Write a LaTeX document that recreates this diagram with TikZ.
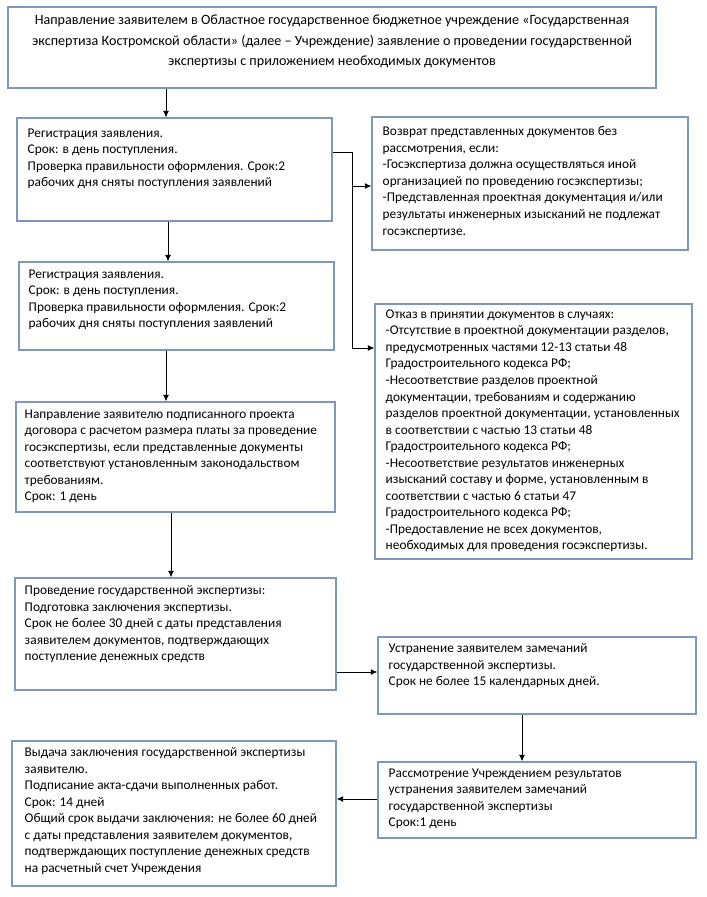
\documentclass[tikz,border=0pt]{standalone}
\usepackage{fontspec}
\setmainfont{Carlito}
\usetikzlibrary{arrows.meta,fit,calc}
\definecolor{boxc}{RGB}{125,152,186}
\begin{document}
\begin{tikzpicture}[x=0.75pt,y=-0.75pt,
  box/.style={draw=boxc,line width=0.8pt,inner sep=0pt},
  txt/.style={inner sep=0pt,align=left,font=\fontsize{10}{12.4}\selectfont,anchor=north west},
  toptxt/.style={inner sep=0pt,align=center,font=\fontsize{10.6}{15.5}\selectfont,anchor=north},
  arr/.style={-{Latex[length=5pt,width=4.5pt]},line width=0.75pt},
  ln/.style={line width=0.75pt}]
\useasboundingbox (0,0) rectangle (707,897);

% boxes
\node[box,fit={(8,7) (656,88)}] (top) {};
\node[box,fit={(17,118) (332,221)}] (A) {};
\node[box,fit={(19,262) (334,350)}] (B) {};
\node[box,fit={(372,117) (688,250)}] (R1) {};
\node[box,fit={(375,304) (692,559)}] (R2) {};
\node[box,fit={(16,402) (335,512)}] (C) {};
\node[box,fit={(15,578) (336,690)}] (D) {};
\node[box,fit={(378,637) (696,714)}] (E) {};
\node[box,fit={(378,762) (696,838)}] (F) {};
\node[box,fit={(12,741) (336,886)}] (G) {};

% texts
\node[toptxt] (topt) at ($(top.north)+(0,8)$) {Направление заявителем в Областное государственное бюджетное учреждение «Государственная\\
экспертиза Костромской области» (далее – Учреждение) заявление о проведении государственной\\
экспертизы с приложением необходимых документов};

\node[txt] (At) at ($(A.north west)+(11,11)$) {Регистрация заявления.\\
Срок: в день поступления.\\
Проверка правильности оформления. Срок:2\\
рабочих дня сняты поступления заявлений};

\node[txt] (Bt) at ($(B.north west)+(10,8)$) {Регистрация заявления.\\
Срок: в день поступления.\\
Проверка правильности оформления. Срок:2\\
рабочих дня сняты поступления заявлений};

\node[txt] (R1t) at ($(R1.north west)+(11,10)$) {Возврат представленных документов без\\
рассмотрения, если:\\
-Госэкспертиза должна осуществляться иной\\
организацией по проведению госэкспертизы;\\
-Представленная проектная документация и/или\\
результаты инженерных изысканий не подлежат\\
госэкспертизе.};

\node[txt] (R2t) at ($(R2.north west)+(11,6)$) {Отказ в принятии документов в случаях:\\
-Отсутствие в проектной документации разделов,\\
предусмотренных частями 12-13 статьи 48\\
Градостроительного кодекса РФ;\\
-Несоответствие разделов проектной\\
документации, требованиям и содержанию\\
разделов проектной документации, установленных\\
в соответствии с частью 13 статьи 48\\
Градостроительного кодекса РФ;\\
-Несоответствие результатов инженерных\\
изысканий составу и форме, установленным в\\
соответствии с частью 6 статьи 47\\
Градостроительного кодекса РФ;\\
-Предоставление не всех документов,\\
необходимых для проведения госэкспертизы.};

\node[txt] (Ct) at ($(C.north west)+(9,8)$) {Направление заявителю подписанного проекта\\
договора с расчетом размера платы за проведение\\
госэкспертизы, если представленные документы\\
соответствуют установленным законодальством\\
требованиям.\\
Срок: 1 день};

\node[txt] (Dt) at ($(D.north west)+(10,8)$) {Проведение государственной экспертизы:\\
Подготовка заключения экспертизы.\\
Срок не более 30 дней с даты представления\\
заявителем документов, подтверждающих\\
поступление денежных средств};

\node[txt] (Et) at ($(E.north west)+(11,7)$) {Устранение заявителем замечаний\\
государственной экспертизы.\\
Срок не более 15 календарных дней.};

\node[txt] (Ft) at ($(F.north west)+(11,7)$) {Рассмотрение Учреждением результатов\\
устранения заявителем замечаний\\
государственной экспертизы\\
Срок:1 день};

\node[txt] (Gt) at ($(G.north west)+(13,7)$) {Выдача заключения государственной экспертизы\\
заявителю.\\
Подписание акта-сдачи выполненных работ.\\
Срок: 14 дней\\
Общий срок выдачи заключения: не более 60 дней\\
с даты представления заявителем документов,\\
подтверждающих поступление денежных средств\\
на расчетный счет Учреждения};

% connectors
\draw[arr] (166,0 |- top.south) -- (166,0 |- A.north);
\draw[arr] (168,0 |- A.south) -- (168,0 |- B.north);
\draw[arr] (166,0 |- B.south) -- (166,0 |- C.north);
\draw[arr] (171,0 |- C.south) -- (171,0 |- D.north);
\draw[arr] (522,0 |- E.south) -- (522,0 |- F.north);
\draw[arr] (D.east |- 0,672) -- (E.west |- 0,672);
\draw[arr] (F.west |- 0,799) -- (G.east |- 0,799);

\coordinate (j1) at (352,152);
\coordinate (j2) at (352,186);
\coordinate (j3) at (352,348);
\draw[ln] (A.east |- j1) -- (j1) -- (j3);
\draw[arr] (j2) -- (R1.west |- j2);
\draw[arr] (j3) -- (R2.west |- j3);
\end{tikzpicture}
\end{document}
